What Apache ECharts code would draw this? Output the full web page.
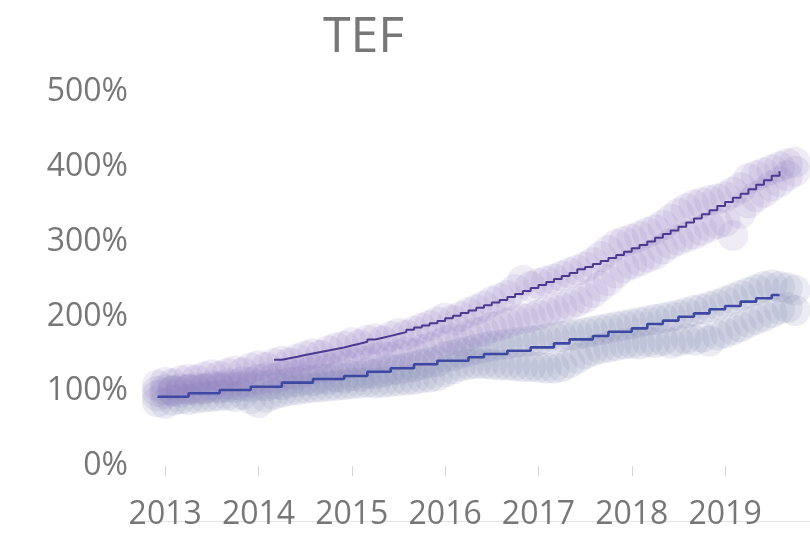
<!DOCTYPE html>
<html>
<head>
<meta charset="utf-8">
<script src="https://cdn.jsdelivr.net/npm/echarts@6/dist/echarts.min.js"></script>
<style>
html,body{margin:0;padding:0;background:#fff;}
#c{width:810px;height:533px;}
</style>
</head>
<body>
<div id="c"></div>
<script>
// ---- data ----
var title = 'TEF';
var yearTicks = [2013, 2014, 2015, 2016, 2017, 2018, 2019];
var yTicks = [0, 100, 200, 300, 400, 500];

// scatter clouds: monthly, Dec 2012 .. Oct 2019 (upper and lower edge of each band)
var scatterStart = [2012, 12];
var purpleHi = [108,
  112,110,114,116,115,119,122,120,124,127,125,131,
  134,132,137,140,138,143,147,150,148,154,158,160,
  165,162,168,170,167,173,177,175,180,184,188,193,
  198,195,200,205,209,214,220,224,228,236,248,240,
  244,247,250,254,258,262,266,272,280,288,296,300,
  303,307,312,316,322,330,338,344,349,352,355,357,
  360,366,372,384,388,392,396,400,404,406];
var purpleLo = [94,
  97,100,99,103,101,104,108,106,110,109,113,112,
  116,118,117,121,124,122,127,129,132,131,134,136,
  138,141,140,144,146,145,149,152,150,155,158,162,
  167,170,168,174,178,180,185,188,191,195,197,199,
  202,206,209,212,216,220,225,232,240,248,258,265,
  270,274,279,283,290,297,302,306,310,315,320,324,
  327,308,338,352,360,366,374,380,388,394];
var grayHi = [100,
  102,101,103,102,104,103,105,104,106,105,107,106,
  108,107,110,109,112,113,115,114,117,116,119,118,
  121,120,124,123,126,128,129,131,133,136,138,140,
  146,148,151,153,156,158,160,162,163,165,166,167,
  168,170,172,173,175,176,178,180,182,184,186,188,
  190,192,194,196,198,200,202,205,208,210,213,216,
  220,224,228,232,236,240,242,240,238,235];
var grayLo = [86,
  84,88,90,89,91,92,93,94,95,93,96,90,
  85,92,96,99,101,102,104,105,106,107,108,109,
  110,111,112,111,112,113,114,115,116,118,119,121,
  126,130,134,136,137,137,136,135,135,134,133,133,
  132,131,131,133,138,144,150,154,157,159,161,163,
  164,163,166,165,168,164,167,170,168,172,167,175,
  178,182,186,192,196,200,205,210,212,208];

// step lines, monthly
var upperStart = [2014, 3];
var upperLine = [142,144,146,148.5,150.5,152.5,154.5,156.5,158.5,161,
  163.5,166,169,171.5,174,176.5,179,182,185,188,191,194,
  197.5,201,204.5,208,211.5,215,218.5,222,226,230,234,238,
  242,246,250,254,258,263,266,270,274,278,282,286.5,
  291,295.5,300,305,310,315,320,325.5,331,336.5,342,347.5,
  353,358.5,364,370,376,382,388,394];
var lowerStart = [2012, 12];
var lowerLine = [92.6,92.6,92.6,92.6,
  97.2,97.2,97.2,97.2,
  101.6,101.6,101.6,101.6,
  106,106,106,106,
  111.4,111.4,111.4,111.4,
  116.3,116.3,116.3,116.3,
  120.3,120.3,120.3,
  126,126,126,
  130.6,130.6,130.6,
  136,136,136,
  140.8,140.8,140.8,140.8,
  145.3,145.3,
  149.7,149.7,149.7,
  154.1,154.1,154.1,
  158.6,158.6,158.6,
  164,164,
  169.3,169.3,169.3,
  173.8,173.8,
  179.5,179.5,179.5,
  184,184,
  189.8,189.8,
  194.3,194.3,
  199.6,199.6,
  204.1,204.1,
  209.5,209.5,
  213.9,213.9,
  219.7,219.7,
  224.2,224.2,
  228.6,
  229.5];

// ---- helpers: x positions as decimal years ----
function monthPos(start, i) {
  var m = start[1] - 1 + i;
  return start[0] + m / 12;
}
function lineData(start, vals) {
  return vals.map(function (v, i) { return [monthPos(start, i), v]; });
}
function cloudData(start, hi, lo) {
  var out = [];
  for (var i = 0; i < hi.length; i++) {
    out.push([monthPos(start, i), hi[i]]);
    out.push([monthPos(start, i), lo[i]]);
  }
  return out;
}
var xMin = 2012.73;
var xMax = 2019.91;
var txt = '#777777';
var font = '"Open Sans", "Noto Sans", sans-serif';

var chart = echarts.init(document.getElementById('c'), null, {renderer: 'canvas'});
chart.setOption({
  animation: false,
  backgroundColor: '#ffffff',
  title: {
    text: title, left: 318, top: 8,
    textStyle: {fontFamily: font, fontSize: 50, fontWeight: 'normal', color: txt}
  },
  grid: {left: 140, right: 0, top: 92, bottom: 67, containLabel: false},
  xAxis: [{
    type: 'value', min: xMin, max: xMax, position: 'bottom', offset: 4,
    axisLine: {show: false},
    axisTick: {show: true, length: 10, customValues: yearTicks, lineStyle: {color: '#d6d6d6', width: 1}},
    axisLabel: {
      customValues: yearTicks, margin: 29, fontSize: 32, color: txt, fontFamily: font,
      formatter: function (v) { return String(Math.round(v)); }
    },
    splitLine: {show: false}
  }, {
    type: 'value', min: xMin, max: xMax, position: 'bottom', offset: 55,
    axisLine: {show: true, lineStyle: {color: '#e3e3e3', width: 1}},
    axisTick: {show: false}, axisLabel: {show: false}, splitLine: {show: false}
  }],
  yAxis: {
    type: 'value', min: 0, max: 500, interval: 100,
    axisLine: {show: false}, axisTick: {show: false}, splitLine: {show: false},
    axisLabel: {margin: 12, fontSize: 32, color: txt, fontFamily: font,
      formatter: function (v) { return v + '%'; }}
  },
  series: [{
    type: 'scatter', name: 'gray', xAxisIndex: 0,
    data: cloudData(scatterStart, grayHi, grayLo),
    symbolSize: 31,
    itemStyle: {color: 'rgb(135,145,182)', opacity: 0.17},
    emphasis: {disabled: true}, z: 2
  }, {
    type: 'scatter', name: 'purple', xAxisIndex: 0,
    data: cloudData(scatterStart, purpleHi, purpleLo),
    symbolSize: 31,
    itemStyle: {color: 'rgb(150,125,195)', opacity: 0.15},
    emphasis: {disabled: true}, z: 2
  }, {
    type: 'line', name: 'lower', xAxisIndex: 0, step: 'end',
    data: lineData(lowerStart, lowerLine),
    showSymbol: false, symbol: 'none',
    lineStyle: {color: '#3d48a2', width: 2.6},
    emphasis: {disabled: true}, z: 5
  }, {
    type: 'line', name: 'upper', xAxisIndex: 0, step: 'end',
    data: lineData(upperStart, upperLine),
    showSymbol: false, symbol: 'none',
    lineStyle: {color: '#4b3a8e', width: 2},
    emphasis: {disabled: true}, z: 5
  }]
});
</script>
</body>
</html>
